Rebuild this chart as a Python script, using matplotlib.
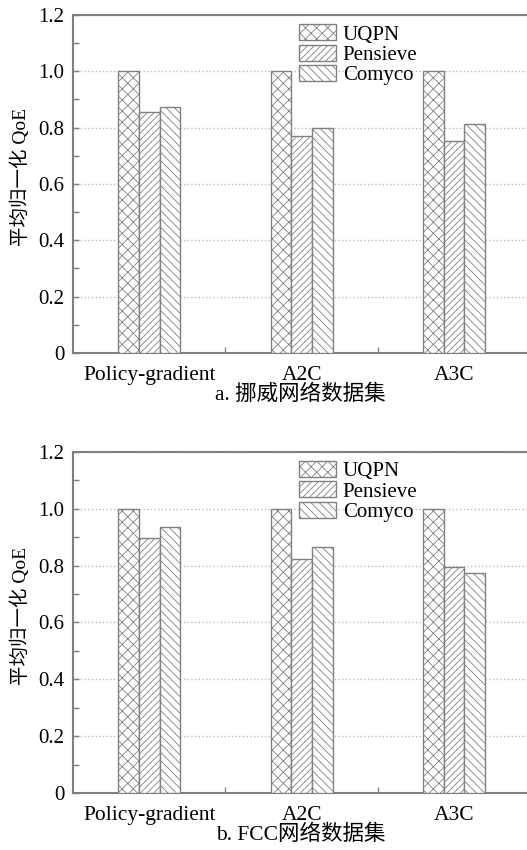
import matplotlib
matplotlib.use("Agg")
import matplotlib.pyplot as plt
import numpy as np

plt.rcParams['font.family'] = ['Liberation Serif', 'Noto Sans CJK SC', 'DejaVu Sans']
plt.rcParams['hatch.linewidth'] = 0.6
plt.rcParams['hatch.color'] = '#808080'

# data
methods = ["UQPN", "Pensieve", "Comyco"]
algorithms = ["Policy-gradient", "A2C", "A3C"]
norway_qoe = [
    [1.0, 1.0, 1.0],        # UQPN
    [0.855, 0.771, 0.751],  # Pensieve
    [0.874, 0.797, 0.812],  # Comyco
]
fcc_qoe = [
    [1.0, 1.0, 1.0],
    [0.898, 0.823, 0.794],
    [0.935, 0.866, 0.773],
]
captions = ["a. 挪威网络数据集", "b. FCC网络数据集"]
ylabel = "平均归一化 QoE"
yticks = [0, 0.2, 0.4, 0.6, 0.8, 1.0, 1.2]
ytick_labels = ["0", "0.2", "0.4", "0.6", "0.8", "1.0", "1.2"]

hatches = ["xxx", "/////", "\\\\\\\\"]
edge = "#808080"

fig = plt.figure(figsize=(5.27, 8.5), dpi=100)
positions = [
    [0.1385, 0.5847, 0.868, 0.3977],
    [0.1385, 0.0667, 0.868, 0.4019],
]
caption_y = [0.536, 0.018]

x = np.arange(len(algorithms))
width = 0.135

for k, data in enumerate([norway_qoe, fcc_qoe]):
    ax = fig.add_axes(positions[k])
    for i, m in enumerate(methods):
        ax.bar(x + (i - 1) * width, data[i], width, color="white",
               edgecolor=edge, linewidth=1.0, hatch=hatches[i], label=m,
               zorder=3)

    ax.set_xlim(-0.5, 2.5)
    ax.set_ylim(0, 1.2)
    ax.set_xticks(x)
    ax.set_xticklabels(algorithms, fontsize=15.5)
    ax.set_xticks([0.5, 1.5], minor=True)
    ax.set_yticks(yticks)
    ax.set_yticklabels(ytick_labels, fontsize=15)
    ax.set_yticks(np.arange(0.1, 1.2, 0.2), minor=True)
    ax.tick_params(axis="both", which="both", direction="in", color=edge,
                   length=4, width=1)
    ax.tick_params(axis="x", which="major", pad=9)
    ax.tick_params(axis="y", which="major", pad=6)

    ax.grid(axis="y", linestyle=":", color="#bbbbbb", linewidth=1.0, zorder=0)
    ax.set_axisbelow(True)

    for s in ["left", "bottom", "top"]:
        ax.spines[s].set_color(edge)
        ax.spines[s].set_linewidth(1.5)
    ax.spines["right"].set_visible(False)

    ax.set_ylabel(ylabel, fontsize=14)
    ax.yaxis.set_label_coords(-0.094, 0.52)

    ax.legend(loc="upper left", bbox_to_anchor=(0.494, 0.972), frameon=False,
              fontsize=15, handlelength=1.8, handleheight=0.8,
              handletextpad=0.3, labelspacing=0.0, borderpad=0,
              borderaxespad=0)

    fig.text(0.57, caption_y[k], captions[k], ha="center", va="center",
             fontsize=15.5)

fig.savefig("out.png", dpi=100)
